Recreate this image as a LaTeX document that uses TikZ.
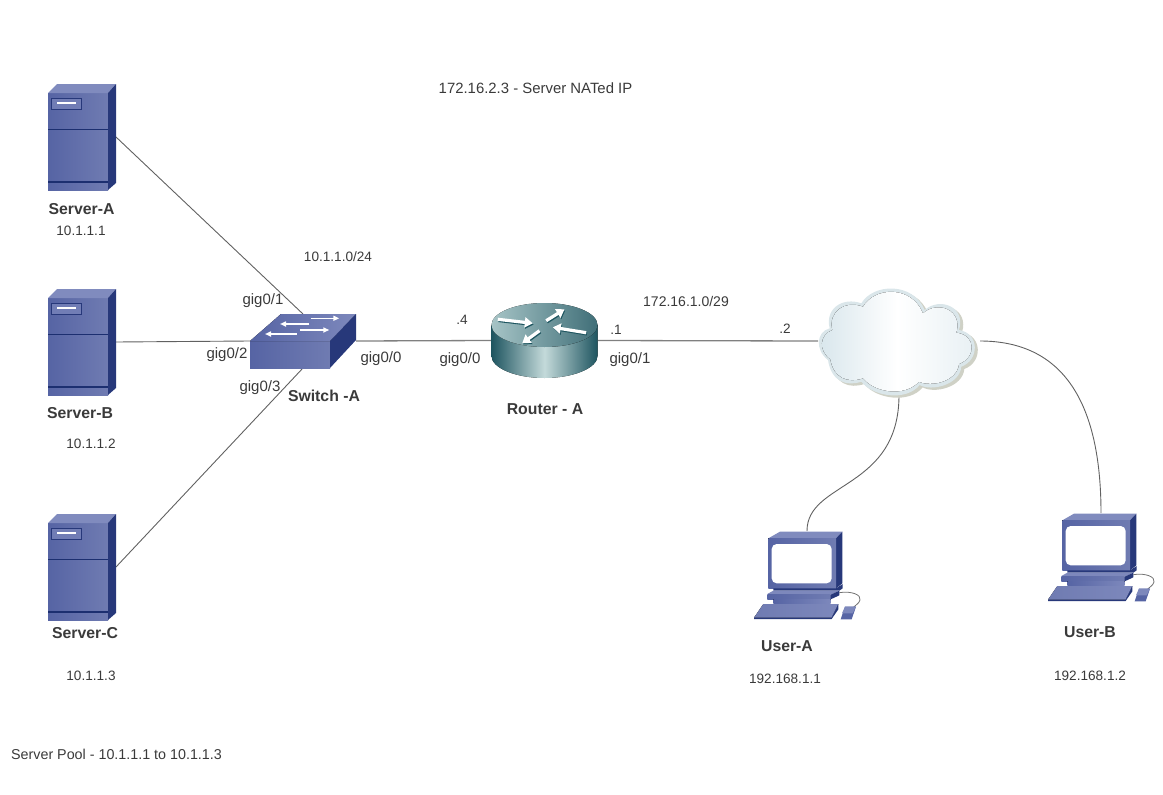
\documentclass[tikz,border=0pt]{standalone}
\usepackage{fontspec}
\setmainfont{Liberation Sans}
\usetikzlibrary{arrows.meta}

\definecolor{bluefront}{HTML}{5664A4}
\definecolor{bluelight}{HTML}{7D88BC}
\definecolor{bluetop}{HTML}{808BBE}
\definecolor{bluedark}{HTML}{27387A}
\definecolor{bluenavy}{HTML}{1C2F70}
\definecolor{routerdark}{HTML}{1E5560}
\definecolor{routerlight}{HTML}{C4DADA}
\definecolor{routertop}{HTML}{A6C4C6}
\definecolor{cloudedge}{HTML}{DAE6EA}
\definecolor{cloudshadow}{HTML}{CFD1C6}
\definecolor{cloudleft}{HTML}{D8E6EC}
\definecolor{inktext}{HTML}{3A3A3A}

\tikzset{
    iconbox/.style={inner sep=0pt, outer sep=0pt},
    lbl/.style={text=inktext, font=\fontsize{13.6}{16}\selectfont, inner sep=0pt},
    portlbl/.style={lbl, font=\fontsize{15}{16}\selectfont},
    boldlbl/.style={lbl, font=\fontsize{15.8}{16}\selectfont\bfseries},
    link/.style={color=black!62, line width=0.9pt},
    trunk/.style={color=black!50, line width=1.3pt},
    swarrow/.style={white, line width=1.5pt, -{Triangle[length=6pt,width=5pt]}},
    rtarrow/.style={white, line width=3.2pt, -{Triangle[length=8pt,width=10pt]}},
    rtshadow/.style={rtarrow, routerdark, shift={(0.8,1.2)}},
    server/.pic={
        \fill[left color=bluefront, right color=bluefront!85!white] (-34,-44) rectangle (26,53);
        \fill[bluetop] (-34,-44) -- (-25,-53) -- (34,-53) -- (26,-44) -- cycle;
        \fill[bluedark] (26,-44) -- (34,-53) -- (34,46) -- (26,53) -- cycle;
        \draw[bluenavy, line width=0.9pt] (-34,-8) -- (26,-8);
        \draw[bluenavy, line width=1.3pt] (-34,45) -- (26,45);
        \draw[bluedark, fill=bluelight!70!bluefront, line width=0.9pt] (-31,-39) rectangle (-1,-28);
        \draw[white, line width=1.2pt] (-25,-34) -- (-6,-34);
    },
    switch/.pic={
        \fill[left color=bluefront, right color=bluefront!85!white] (-53,0) rectangle (27,27);
        \fill[left color=bluefront, right color=bluelight] (-53,0) -- (-22,-27) -- (53,-27) -- (27,0) -- cycle;
        \fill[bluedark] (27,0) -- (53,-27) -- (53,-1) -- (27,27) -- cycle;
        \draw[swarrow] (7.7,-22.7) -- (36.3,-22.7);
        \draw[swarrow] (6.3,-17) -- (-23,-17);
        \draw[swarrow] (-3,-11) -- (26.3,-11);
        \draw[swarrow] (-6.3,-7) -- (-38,-7);
    },
    router/.pic={
        \fill[left color=routerdark, right color=routerdark, middle color=routerlight]
            (-53,-15.5) -- (-53,15.5) .. controls (-53,27.5) and (-29,37.5) .. (0,37.5)
            .. controls (29,37.5) and (53,27.5) .. (53,15.5) -- (53,-15.5) -- cycle;
        \fill[left color=routertop, right color=routerdark!85!white] (0,-15.5) ellipse [x radius=53pt, y radius=22pt];
        \foreach \ST in {rtshadow, rtarrow}
        {
            \draw[\ST] (-46.7,-21.2) -- (-11.7,-17.2);
            \draw[\ST] (-5,-9.8) -- (-22.3,2.8);
            \draw[\ST] (1.7,-19.8) -- (20,-31.2);
            \draw[\ST] (41.7,-7.8) -- (8.3,-13.2);
        }
    },
    cloudshape/.pic={
        % outline traced from the picture, 3 units to a pixel
        \begin{scope}[scale=1/3, shift={(-298,-213)}]
            \foreach \dx/\dy/\CLR in {9/7/cloudshadow, 0/0/cloudedge}
            {
                \fill[\CLR, shift={(\dx,\dy)}] (85,270)
                    .. controls (45,240) and (50,185) .. (90,175)
                    .. controls (75,115) and (130,80) .. (185,100)
                    .. controls (220,40) and (340,35) .. (375,120)
                    .. controls (420,80) and (500,110) .. (478,180)
                    .. controls (540,190) and (540,270) .. (485,290)
                    .. controls (480,345) and (395,365) .. (360,345)
                    .. controls (320,395) and (220,380) .. (185,335)
                    .. controls (140,350) and (95,335) .. (85,270) -- cycle;
            }
            \fill[left color=cloudleft, right color=cloudleft!60!white, middle color=white] (92,268)
                .. controls (55,240) and (60,195) .. (98,180)
                .. controls (85,125) and (135,90) .. (190,110)
                .. controls (225,50) and (335,45) .. (370,130)
                .. controls (415,90) and (490,120) .. (470,188)
                .. controls (530,195) and (530,262) .. (478,282)
                .. controls (472,335) and (395,352) .. (358,335)
                .. controls (315,382) and (225,368) .. (190,325)
                .. controls (145,340) and (102,325) .. (92,268) -- cycle;
        \end{scope}
    },
    usermachine/.pic={
        % drawn in zoomed units
        \begin{scope}[scale=1/3, shift={(-201,-165)}]
            \draw[black!55, line width=0.8pt] (298,218) .. controls (335,212) and (365,225) .. (360,240)
                .. controls (357,252) and (345,255) .. (338,264);
            \fill[bluetop] (85,55) -- (120,35) -- (307,35) -- (288,55) -- cycle;
            \fill[bluedark] (288,55) -- (307,35) -- (307,190) -- (288,205) -- cycle;
            \fill[left color=bluefront, right color=bluefront!85!white] (85,55) rectangle (288,205);
            \fill[white, rounded corners=5pt] (95,72) rectangle (275,190);
            % base under the screen
            \fill[bluedark] (100,205) -- (288,205) -- (308,192) -- (308,205) -- (298,212) -- (100,212) -- cycle;
            \fill[bluelight] (82,222) -- (100,212) -- (298,212) -- (272,224) -- cycle;
            \fill[left color=bluefront, right color=bluefront!85!white] (82,224) rectangle (272,238);
            \fill[bluedark] (272,224) -- (298,212) -- (298,226) -- (272,238) -- cycle;
            \fill[left color=bluefront, right color=bluelight] (100,238) -- (272,238) -- (272,250) -- (100,250) -- cycle;
            % keyboard and mouse
            \fill[left color=bluefront!85!white, right color=bluelight] (70,252) -- (295,252) -- (275,293) -- (42,293) -- cycle;
            \fill[bluedark] (295,252) -- (295,268) -- (275,297) -- (42,297) -- (42,293) -- (275,293) -- cycle;
            \fill[bluefront] (315,260) -- (348,260) -- (335,298) -- (302,298) -- cycle;
            \fill[bluelight] (315,260) -- (348,260) -- (338,280) -- (306,280) -- cycle;
        \end{scope}
    },
}

\begin{document}
\begin{tikzpicture}[x=1pt, y=-1pt]
    \useasboundingbox (0,0) rectangle (1163,795);

    % icon places
    \foreach \NM/\Y in {serverA/137, serverB/342, serverC/567}
    {
        \node[iconbox, minimum width=68pt, minimum height=106pt] (\NM) at (82,\Y) {};
    }
    \node[iconbox, minimum width=106pt, minimum height=54pt] (switchA) at (303,341) {};
    \node[iconbox, minimum width=107pt, minimum height=75pt] (routerA) at (544.5,340.5) {};
    \node[iconbox, minimum width=162pt, minimum height=108pt] (cloud) at (899,341) {};
    \node[iconbox, minimum width=78pt, minimum height=88pt] (userA) at (807,575) {};
    \node[iconbox, minimum width=78pt, minimum height=88pt] (userB) at (1101,557) {};

    % links
    \draw[link] (serverA.east) -- (switchA.north);
    \draw[link] (serverB.east) -- (switchA.west);
    \draw[link] (serverC.east) -- (switchA.south);
    \draw[trunk] (switchA.east) -- (routerA.west);
    \draw[trunk] (routerA.east) -- (cloud.west);
    \draw[link] (cloud.south) .. controls +(0,95) and +(0,-50) .. (userA.north);
    \draw[link] (cloud.east) .. controls +(90,0) and +(0,-100) .. (userB.north);

    % icons
    \foreach \NM in {serverA, serverB, serverC}
    {
        \pic at (\NM) {server};
    }
    \pic at (switchA) {switch};
    \pic at (routerA) {router};
    \pic at (cloud) {cloudshape};
    \pic at (userA) {usermachine};
    \pic at (userB) {usermachine};

    % bold names
    \node[boldlbl] (nameSrvA) at (81.5,209) {Server-A};
    \node[boldlbl] (nameSrvB) at (80,413) {Server-B};
    \node[boldlbl] (nameSrvC) at (85,633) {Server-C};
    \node[boldlbl] (nameSw) at (324,396) {Switch -A};
    \node[boldlbl] (nameRt) at (545,409) {Router - A};
    \node[boldlbl] (nameUsrA) at (787,646) {User-A};
    \node[boldlbl] (nameUsrB) at (1090,632) {User-B};

    % addresses
    \node[lbl] (ipSrvA) at (81,231) {10.1.1.1};
    \node[lbl] (ipSrvB) at (91,444) {10.1.1.2};
    \node[lbl] (ipSrvC) at (91,676) {10.1.1.3};
    \node[lbl] (ipUsrA) at (785,679) {192.168.1.1};
    \node[lbl] (ipUsrB) at (1090,676) {192.168.1.2};
    \node[lbl, font=\fontsize{14.9}{16}\selectfont] (natIp) at (535.5,88) {172.16.2.3 - Server NATed IP};
    \node[lbl] (lanNet) at (338,257) {10.1.1.0/24};
    \node[lbl, font=\fontsize{14}{16}\selectfont] (wanNet) at (686,301) {172.16.1.0/29};
    \node[lbl, font=\fontsize{14.3}{16}\selectfont] (pool) at (116.5,754) {Server Pool - 10.1.1.1 to 10.1.1.3};
    \node[lbl] (dotFour) at (462,320) {.4};
    \node[lbl] (dotOne) at (616,330) {.1};
    \node[lbl] (dotTwo) at (785,329) {.2};

    % ports
    \node[portlbl] (swPortA) at (263,301) {gig0/1};
    \node[portlbl] (swPortB) at (227,355) {gig0/2};
    \node[portlbl] (swPortC) at (260,388) {gig0/3};
    \node[portlbl] (swPortD) at (381,359) {gig0/0};
    \node[portlbl] (rtPortA) at (460,360) {gig0/0};
    \node[portlbl] (rtPortB) at (630,360) {gig0/1};
\end{tikzpicture}
\end{document}
